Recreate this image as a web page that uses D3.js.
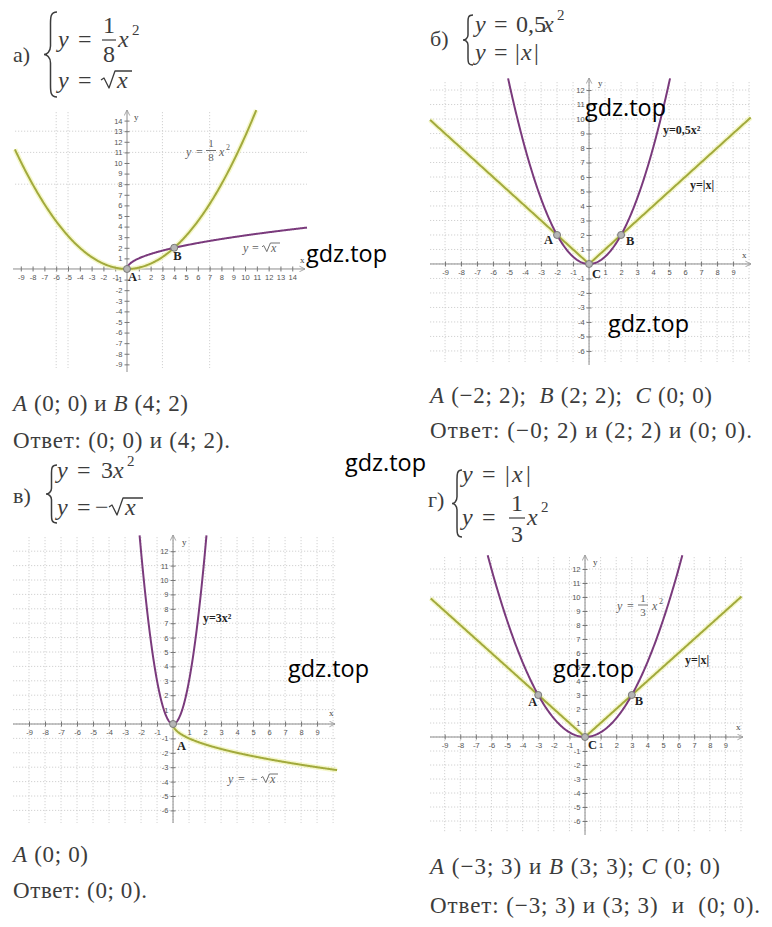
<!DOCTYPE html>
<html><head><meta charset="utf-8">
<script src="https://cdn.jsdelivr.net/npm/d3@7"></script>
<style>body{margin:0;background:#fff}svg{display:block}text{white-space:pre}</style>
</head><body>
<svg id="c" width="772" height="927"></svg>
<script>
// ================= DATA =================
const xTicksA = [-9,-8,-7,-6,-5,-4,-3,-2,-1,1,2,3,4,5,6,7,8,9,10,11,12,13,14];
const yTicksA = [14,13,12,11,10,9,8,7,6,5,4,3,2,1,-1,-2,-3,-4,-5,-6,-7,-8,-9];
const xTicks9 = [-9,-8,-7,-6,-5,-4,-3,-2,-1,1,2,3,4,5,6,7,8,9];
const yTicks12 = [12,11,10,9,8,7,6,5,4,3,2,1,-1,-2,-3,-4,-5,-6];

// curves: y = k * f(x), over [from, to]
const seriesA = [{f:"square", k:1/8, from:-9.5, to:10.95}, {f:"sqrt", k:1, from:0, to:15.25}];
const seriesB = [{f:"abs", k:1, from:-9.94, to:10.1}, {f:"square", k:0.5, from:-5.06, to:5.06}];
const seriesV = [{f:"square", k:3, from:-2.09, to:2.09}, {f:"sqrt", k:-1, from:0, to:10.25}];
const seriesG = [{f:"abs", k:1, from:-9.9, to:10.03}, {f:"square", k:1/3, from:-6.24, to:6.24}];

const pointsA = [[0,0],[4,2]];           const pointNamesA = ["A","B"];
const pointsB = [[-2,2],[2,2],[0,0]];    const pointNamesB = ["A","B","C"];
const pointsV = [[0,0]];                 const pointNamesV = ["A"];
const pointsG = [[-3,3],[3,3],[0,0]];    const pointNamesG = ["A","B","C"];

const answersA = [[["A",1],[" (0; 0) и ",0],["B",1],[" (4; 2)",0]], [["Ответ: (0; 0) и (4; 2).",0]]];
const answersB = [[["A",1],[" (−2; 2);  ",0],["B",1],[" (2; 2);  ",0],["C",1],[" (0; 0)",0]], [["Ответ: (−0; 2) и (2; 2) и (0; 0).",0]]];
const answersV = [[["A",1],[" (0; 0)",0]], [["Ответ: (0; 0).",0]]];
const answersG = [[["A",1],[" (−3; 3) и ",0],["B",1],[" (3; 3); ",0],["C",1],[" (0; 0)",0]], [["Ответ: (−3; 3) и (3; 3)  и  (0; 0).",0]]];

const watermark = "gdz.top";

// ================= STYLE / LAYOUT =================
const OLIVE = "#a2aa3c", PURPLE = "#7a3a7c";
const SERIF = "'Liberation Serif','Times New Roman',serif";
const TXT = "#3c3c3c";
const fns = {square: x => x*x, sqrt: x => Math.sqrt(x), abs: x => Math.abs(x)};

const svg = d3.select("#c");
const defs = svg.append("defs");
defs.append("marker").attr("id","arr").attr("viewBox","0 0 10 10").attr("refX",9).attr("refY",5)
  .attr("markerWidth",7).attr("markerHeight",7).attr("markerUnits","userSpaceOnUse").attr("orient","auto")
  .append("path").attr("d","M1,1 L9,5 L1,9").attr("fill","none").attr("stroke","#999").attr("stroke-width",1.2);

function drawPanel(cfg){
  const g = svg.append("g");
  const x = d3.scaleLinear().domain(cfg.xd).range(cfg.xr);
  const y = d3.scaleLinear().domain(cfg.yd).range(cfg.yr);
  const grid = g.append("g").attr("stroke","#cdcdcd").attr("stroke-width",0.9).attr("stroke-dasharray","1.2,1.8");
  grid.selectAll(".gv").data(cfg.gridX).join("line").attr("x1",d=>x(d)).attr("x2",d=>x(d))
    .attr("y1",cfg.gridBox[1]).attr("y2",cfg.gridBox[3]);
  grid.selectAll(".gh").data(cfg.gridY).join("line").attr("y1",d=>y(d)).attr("y2",d=>y(d))
    .attr("x1",cfg.gridBox[0]).attr("x2",cfg.gridBox[2]);
  g.append("line").attr("x1",cfg.xr[0]).attr("x2",cfg.xr[1]).attr("y1",y(0)).attr("y2",y(0))
    .attr("stroke","#8c8c8c").attr("stroke-width",1).attr("marker-end","url(#arr)");
  g.append("line").attr("y1",cfg.yr[1]).attr("y2",cfg.yr[0]).attr("x1",x(0)).attr("x2",x(0))
    .attr("stroke","#8c8c8c").attr("stroke-width",1).attr("marker-end","url(#arr)");
  const gx = g.append("g").attr("transform",`translate(0,${y(0)})`)
    .call(d3.axisBottom(x).tickValues(cfg.xTicks).tickSize(2.5).tickPadding(3).tickFormat(d=>String(d)));
  gx.select(".domain").remove();
  gx.selectAll(".tick line").attr("y1",-2.5).attr("y2",2.5).attr("stroke","#777");
  gx.selectAll(".tick text").attr("font-size",7.5).attr("font-family","'Liberation Sans',Arial,sans-serif").attr("fill","#555");
  const gy = g.append("g").attr("transform",`translate(${x(0)},0)`)
    .call(d3.axisLeft(y).tickValues(cfg.yTicks).tickSize(2.5).tickPadding(2).tickFormat(d=>String(d)));
  gy.select(".domain").remove();
  gy.selectAll(".tick line").attr("x1",-2.5).attr("x2",2.5).attr("stroke","#777");
  gy.selectAll(".tick text").attr("font-size",7.5).attr("font-family","'Liberation Sans',Arial,sans-serif").attr("fill","#555");
  g.append("text").attr("x",cfg.yName[0]).attr("y",cfg.yName[1]).text("y").attr("font-size",9).attr("font-family",SERIF).attr("fill","#444");
  g.append("text").attr("x",cfg.xName[0]).attr("y",cfg.xName[1]).text("x").attr("font-size",9).attr("font-family",SERIF).attr("fill","#444");
  const line = d3.line().x(d=>x(d[0])).y(d=>y(d[1]));
  cfg.series.forEach((s,i)=>{
    const n = 300, pts = [];
    for(let j=0;j<=n;j++){ const xv = s.from + (s.to-s.from)*j/n; pts.push([xv, s.k*fns[s.f](xv)]); }
    const col = cfg.colors[i];
    if(col===OLIVE) g.append("path").attr("d",line(pts)).attr("fill","none").attr("stroke","#eef2a8").attr("stroke-width",5).attr("opacity",0.6);
    g.append("path").attr("d",line(pts)).attr("fill","none").attr("stroke",col).attr("stroke-width",2).attr("stroke-linejoin","round");
  });
  g.selectAll(".pt").data(cfg.points).join("circle").attr("cx",d=>x(d[0])).attr("cy",d=>y(d[1])).attr("r",3.5)
    .attr("fill","#b5b5b5").attr("stroke","#7a7a7a").attr("stroke-width",1);
  g.selectAll(".pl").data(cfg.points).join("text")
    .attr("x",(d,i)=>x(d[0])+cfg.nameOff[i][0]).attr("y",(d,i)=>y(d[1])+cfg.nameOff[i][1])
    .attr("text-anchor",(d,i)=>cfg.nameOff[i][2]||"start")
    .text((d,i)=>cfg.names[i]).attr("font-size",12.5).attr("font-weight","bold").attr("font-family",SERIF).attr("fill","#222");
  return g;
}

function t(x,y,str,o={}){
  return svg.append("text").attr("x",x).attr("y",y).text(str)
    .attr("font-family",o.ff||SERIF).attr("font-size",o.fs||24).attr("fill",o.fill||TXT)
    .attr("font-style",o.it?"italic":null).attr("font-weight",o.b?"bold":null)
    .attr("text-anchor",o.anchor||"start");
}
function hline(x1,x2,y,w,col){ svg.append("line").attr("x1",x1).attr("x2",x2).attr("y1",y).attr("y2",y).attr("stroke",col||TXT).attr("stroke-width",w||1.2); }
function radical(x0,yb,top,xEnd,w,col,s){
  s = s||1;
  svg.append("path").attr("d",`M${x0},${yb-7*s} L${x0+3*s},${yb-9*s} L${x0+8*s},${yb+1*s} L${x0+14*s},${top} L${xEnd},${top}`)
    .attr("fill","none").attr("stroke",col||TXT).attr("stroke-width",w||1.2).attr("stroke-linejoin","round");
}
function brace(x0,x1,y0,y1){
  const ym=(y0+y1)/2, xm=(x0+x1)/2, h=y1-y0;
  const d=`M${x1},${y0} C${xm},${y0} ${xm},${y0+h*0.06} ${xm},${y0+h*0.14} L${xm},${ym-h*0.1}
    C${xm},${ym-h*0.03} ${x0+(xm-x0)*0.4},${ym} ${x0},${ym} C${x0+(xm-x0)*0.4},${ym} ${xm},${ym+h*0.03} ${xm},${ym+h*0.1}
    L${xm},${y1-h*0.14} C${xm},${y1-h*0.06} ${xm},${y1} ${x1},${y1}`;
  svg.append("path").attr("d",d).attr("fill","none").attr("stroke",TXT).attr("stroke-width",1.5);
}
function answer(parts,x,y,w){
  const el = svg.append("text").attr("x",x).attr("y",y).attr("font-family",SERIF).attr("font-size",23).attr("fill",TXT)
    .attr("textLength",w).attr("lengthAdjust","spacing");
  parts.forEach(p=>el.append("tspan").text(p[0]).attr("font-style",p[1]?"italic":null));
}

// ================= PANELS =================
drawPanel({xd:[-9.66,15.08], xr:[13,305], yd:[15.0,-9.72], yr:[110,372],
  gridX:[-6,-5,3,7], gridY:[13,11,8], gridBox:[15,112,307,368],
  xTicks:xTicksA, yTicks:yTicksA, series:seriesA, colors:[OLIVE,PURPLE],
  points:pointsA, names:pointNamesA, nameOff:[[1,12],[-1,12]],
  yName:[134,120], xName:[300,263]});
drawPanel({xd:[-9.94,10.12], xr:[430,751], yd:[12.83,-6.97], yr:[78,365],
  gridX:d3.range(-9,11), gridY:d3.range(-6,13), gridBox:[430,82,751,362],
  xTicks:xTicks9, yTicks:yTicks12, series:seriesB, colors:[OLIVE,PURPLE],
  points:pointsB, names:pointNamesB, nameOff:[[-4,9,"end"],[5,10],[3,14]],
  yName:[598,86], xName:[742,258]});
drawPanel({xd:[-10.0,10.12], xr:[13,335], yd:[13.125,-6.875], yr:[535,823],
  gridX:d3.range(-9,11), gridY:d3.range(-6,13), gridBox:[13,537,337,823],
  xTicks:xTicks9, yTicks:yTicks12, series:seriesV, colors:[PURPLE,OLIVE],
  points:pointsV, names:pointNamesV, nameOff:[[4,26]],
  yName:[182,545], xName:[329,716]});
drawPanel({xd:[-9.94,10.13], xr:[430,743], yd:[13.0,-7.0], yr:[555,835],
  gridX:d3.range(-9,11), gridY:d3.range(-6,13), gridBox:[430,557,743,833],
  xTicks:xTicks9, yTicks:yTicks12, series:seriesG, colors:[OLIVE,PURPLE],
  points:pointsG, names:pointNamesG, nameOff:[[-1,11,"end"],[3,10],[3,12]],
  yName:[593,565], xName:[736,730]});

// ----- in-chart formula labels -----
const GL = "#606060";
t(186,156,"y",{fs:12,it:1,fill:GL}); t(196,156,"=",{fs:12,fill:GL});
t(211,147,"1",{fs:11,fill:GL,anchor:"middle"}); hline(206,216,150.5,0.9,GL); t(211,161,"8",{fs:11,fill:GL,anchor:"middle"});
t(219,156,"x",{fs:12,it:1,fill:GL}); t(226,150,"2",{fs:8,fill:GL});
t(243,252,"y",{fs:12,it:1,fill:GL}); t(252,252,"=",{fs:12,fill:GL});
radical(262,251,243,280,0.9,GL,0.6); t(271,252,"x",{fs:12,it:1,fill:GL});
t(663,134,"y=0,5x²",{fs:12,b:1,fill:"#222"});
t(690,189,"y=|x|",{fs:12,b:1,fill:"#222"});
t(203,622,"y=3x²",{fs:12,b:1,fill:"#222"});
t(228,783,"y",{fs:12,it:1,fill:GL}); t(238,783,"=",{fs:12,fill:GL}); t(251,783,"−",{fs:12,fill:GL});
radical(261,782,774,278,0.9,GL,0.6); t(270,783,"x",{fs:12,it:1,fill:GL});
t(617,610,"y",{fs:12,it:1,fill:GL}); t(627,610,"=",{fs:12,fill:GL});
t(643,602,"1",{fs:11,fill:GL,anchor:"middle"}); hline(638,648,605,0.9,GL); t(643,616,"3",{fs:11,fill:GL,anchor:"middle"});
t(652,610,"x",{fs:12,it:1,fill:GL}); t(659,604,"2",{fs:8,fill:GL});
t(685,664,"y=|x|",{fs:12,b:1,fill:"#222"});

// ----- systems of equations -----
t(13,62,"а)",{fs:22}); brace(44,57,12,97);
t(58,47,"y",{it:1}); t(78,47,"="); t(109,33,"1",{anchor:"middle"}); hline(102,116,40); t(109,62,"8",{anchor:"middle"});
t(118,47,"x",{it:1}); t(132,35,"2",{fs:15});
t(58,88,"y",{it:1}); t(78,88,"="); radical(101,87,71,132,1.3); t(117,88,"x",{it:1});
t(430,46,"б)",{fs:22}); brace(463,473,15,65);
t(475,32,"y",{it:1}); t(494,32,"="); t(516,32,"0,5"); t(543,32,"x",{it:1}); t(557,20,"2",{fs:15});
t(475,60,"y",{it:1}); t(494,60,"="); t(515,60,"|"); t(521,60,"x",{it:1}); t(534,60,"|");
t(13,503,"в)",{fs:22}); brace(46,57,465,523);
t(57,478,"y",{it:1}); t(77,478,"="); t(101,478,"3"); t(113,478,"x",{it:1}); t(127,466,"2",{fs:15});
t(57,515,"y",{it:1}); t(77,515,"="); t(95,515,"−"); radical(109,514,498,143,1.3); t(125,515,"x",{it:1});
t(428,507,"г)",{fs:22}); brace(452,462,470,537);
t(462,482,"y",{it:1}); t(482,482,"="); t(505,482,"|"); t(512,482,"x",{it:1}); t(526,482,"|");
t(462,525,"y",{it:1}); t(482,525,"="); t(517,511,"1",{anchor:"middle"}); hline(509,525,518); t(517,542,"3",{anchor:"middle"});
t(527,525,"x",{it:1}); t(541,512,"2",{fs:15});

// ----- answers -----
answer(answersA[0],13,411,175); answer(answersA[1],13,448,217);
answer(answersB[0],430,403,282); answer(answersB[1],430,438,322);
answer(answersV[0],13,862,75);  answer(answersV[1],13,898,134);
answer(answersG[0],430,874,290); answer(answersG[1],430,913,330);

// ----- watermarks -----
[[306,262],[585,116],[608,332],[345,471],[288,677],[553,677]].forEach(p=>{
  svg.append("text").attr("x",p[0]).attr("y",p[1]).text(watermark).attr("font-family","'Open Sans',sans-serif")
    .attr("font-size",24).attr("fill","#000").attr("textLength",81).attr("lengthAdjust","spacingAndGlyphs");
});
</script>
</body></html>
